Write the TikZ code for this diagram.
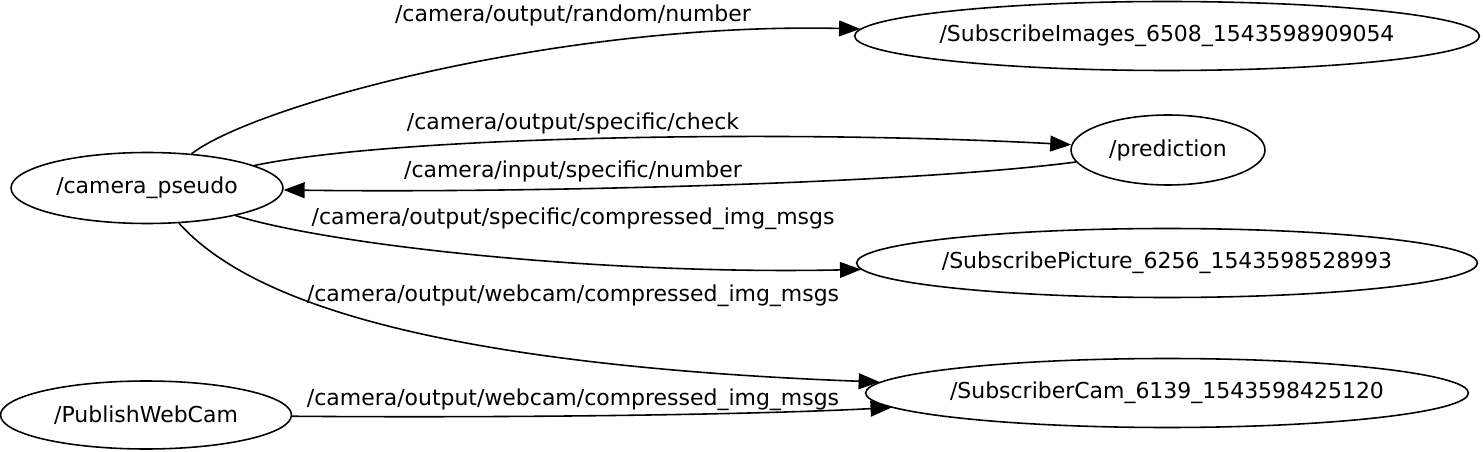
\documentclass[tikz,border=0pt]{standalone}
\usepackage{fontspec}
\setmainfont{DejaVu Sans}
\usetikzlibrary{shapes.geometric, arrows.meta}

\begin{document}
\begin{tikzpicture}[
  x=0.02cm, y=-0.02cm,
  topic/.style = {
    ellipse, draw, line width=0.9pt,
    inner xsep=-0.2cm, inner ysep=0pt, minimum height=1.38cm,
    font=\fontsize{12.5}{15}\selectfont
  },
  edgelabel/.style = {
    anchor=base, inner sep=0pt,
    font=\fontsize{12.5}{15}\selectfont
  },
  arrow/.style = {
    -{Triangle[length=12pt, width=9pt]}, line width=0.9pt
  }
]
\useasboundingbox (0,0) rectangle (1483,452);

% ====== PUBLISHERS (left column) ======
\node[topic, minimum width=5.44cm, minimum height=1.42cm] (campseudo) at (147,188) {/camera\_pseudo};

\node[topic, minimum width=5.82cm, minimum height=1.36cm] (pubwebcam) at (146,415) {/PublishWebCam};

% ====== SUBSCRIBERS (right column) ======
\node[topic, minimum width=12.5cm] (subimages) at (1167,36) {/SubscribeImages\_6508\_1543598909054};

\node[topic, minimum width=3.88cm, minimum height=1.4cm] (prediction) at (1168,150) {/prediction};

\node[topic, minimum width=12.42cm] (subpicture) at (1167,263) {/SubscribePicture\_6256\_1543598528993};

\node[topic, minimum width=12.06cm] (subcam) at (1167,393) {/SubscriberCam\_6139\_1543598425120};

% ====== TOPIC LABELS ======
\node[edgelabel] (lrandom) at (573,22) {/camera/output/random/number};
\node[edgelabel] (lcheck) at (573,130) {/camera/output/specific/check};
\node[edgelabel] (lnumber) at (573,178) {/camera/input/specific/number};
\node[edgelabel] (lspecific) at (573,225) {/camera/output/specific/compressed\_img\_msgs};
\node[edgelabel] (lwebcam) at (573,302) {/camera/output/webcam/compressed\_img\_msgs};
\node[edgelabel] (lwebcamb) at (573,405) {/camera/output/webcam/compressed\_img\_msgs};

% ====== ARROWS ======
% camera_pseudo -> subscribers
\draw[arrow] (campseudo) .. controls (255,105) and (560,22) .. (subimages);
\draw[arrow] (campseudo) .. controls (400,135) and (800,130) .. (prediction);
\draw[arrow] (campseudo) .. controls (330,245) and (600,275) .. (subpicture);
\draw[arrow] (campseudo) .. controls (235,285) and (380,363) .. (subcam);

% prediction answers back
\draw[arrow] (prediction) .. controls (900,185) and (500,193) .. (campseudo);

% webcam publisher
\draw[arrow] (pubwebcam) .. controls (500,418) and (750,415) .. (subcam);

\end{tikzpicture}
\end{document}
